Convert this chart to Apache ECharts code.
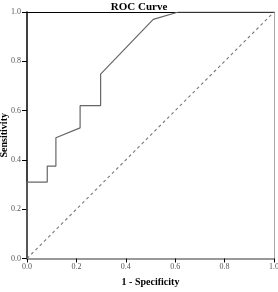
<!DOCTYPE html>
<html><head><meta charset="utf-8">
<script src="https://cdn.jsdelivr.net/npm/echarts@6/dist/echarts.min.js"></script>
<style>html,body{margin:0;padding:0;background:#fff}#c{width:278px;height:292px}</style>
</head><body><div id="c"></div>
<script>
const fpr = [0, 0, 0.082, 0.082, 0.117, 0.117, 0.215, 0.215, 0.298, 0.298, 0.511, 0.613, 1.0];
const tpr = [0, 0.31, 0.31, 0.375, 0.375, 0.49, 0.53, 0.62, 0.62, 0.748, 0.97, 1.0, 1.0];
const refX = [0, 1];
const refY = [0, 1];
const tickLabels = ['0.0', '0.2', '0.4', '0.6', '0.8', '1.0'];

const chart = echarts.init(document.getElementById('c'), null, {renderer: 'canvas'});
const serif = 'Liberation Serif';
const fmt = v => tickLabels[Math.round(v * 5)] || '';
chart.setOption({
  animation: false,
  title: {text: 'ROC Curve', left: 'center', top: -3,
    textStyle: {fontFamily: serif, fontSize: 11, fontWeight: 'bold', color: '#000'}},
  grid: {left: 27, right: 4, top: 12, bottom: 33.5, containLabel: false, outerBoundsMode: 'none'},
  xAxis: [{
    type: 'value', min: 0, max: 1, interval: 0.2,
    name: '1 - Specificity', nameLocation: 'middle', nameGap: 19, nameMoveOverlap: false,
    nameTextStyle: {fontFamily: serif, fontSize: 10, fontWeight: 'bold', color: '#000'},
    axisLine: {show: true, onZero: false, lineStyle: {color: '#999', width: 2}},
    axisTick: {show: true, length: 4, lineStyle: {color: '#000'}},
    axisLabel: {fontFamily: serif, fontSize: 8, color: '#555', margin: 4, formatter: fmt},
    splitLine: {show: false}
  }, {
    type: 'value', min: 0, max: 1, position: 'top',
    axisLine: {show: true, onZero: false, lineStyle: {color: '#000', width: 1}},
    axisTick: {show: false}, axisLabel: {show: false}, splitLine: {show: false}
  }],
  yAxis: [{
    type: 'value', min: 0, max: 1, interval: 0.2,
    name: 'Sensitivity', nameLocation: 'middle', nameGap: 18, nameMoveOverlap: false,
    nameTextStyle: {fontFamily: serif, fontSize: 10, fontWeight: 'bold', color: '#000'},
    axisLine: {show: true, onZero: false, lineStyle: {color: '#000', width: 1.5}},
    axisTick: {show: true, length: 5, lineStyle: {color: '#000'}},
    axisLabel: {fontFamily: serif, fontSize: 8, color: '#555', margin: 6, formatter: fmt},
    splitLine: {show: false}
  }, {
    type: 'value', min: 0, max: 1, position: 'right',
    axisLine: {show: true, onZero: false, lineStyle: {color: '#aaa', width: 1}},
    axisTick: {show: false}, axisLabel: {show: false}, splitLine: {show: false}
  }],
  series: [{
    type: 'line', data: refX.map((x, i) => [x, refY[i]]),
    symbol: 'none', lineStyle: {color: '#777', width: 1.1, type: [3, 3]}, z: 2
  }, {
    type: 'line', data: fpr.map((x, i) => [x, tpr[i]]),
    symbol: 'none', lineStyle: {color: '#666', width: 1.2}, z: 3
  }]
});
</script></body></html>
